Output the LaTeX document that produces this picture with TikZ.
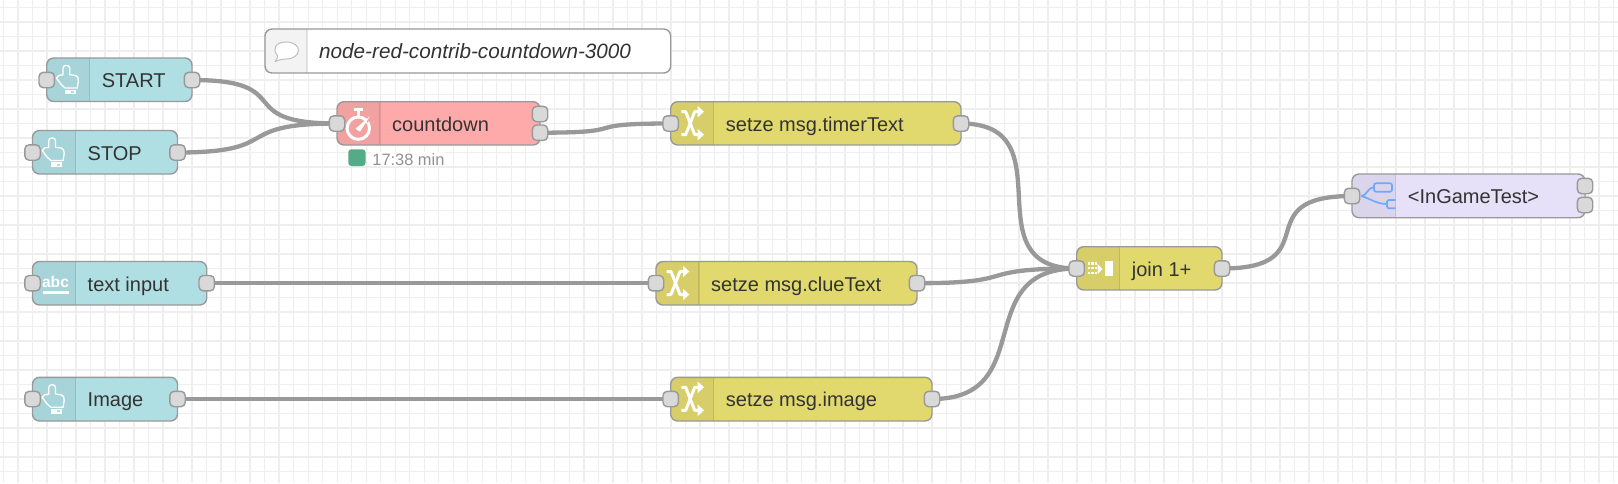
\documentclass[tikz,border=0pt]{standalone}
\usepackage{fontspec}
\setmainfont{Liberation Sans}
\definecolor{gridc}{HTML}{EEEEEE}
\definecolor{edge}{HTML}{999999}
\definecolor{portc}{HTML}{D9D9D9}
\definecolor{textc}{HTML}{333333}
\definecolor{teal}{HTML}{B0DFE3}
\definecolor{tealdk}{HTML}{A7D4D8}
\definecolor{yel}{HTML}{E2D96E}
\definecolor{yeldk}{HTML}{D7CE69}
\definecolor{redn}{HTML}{FFAAAA}
\definecolor{reddk}{HTML}{F2A1A1}
\definecolor{lav}{HTML}{E6E0F8}
\definecolor{lavdk}{HTML}{DBD5EC}
\definecolor{cmtdk}{HTML}{F3F3F3}
\definecolor{stat}{HTML}{55AA88}
\definecolor{flowblue}{HTML}{6FA9FF}
\pgfdeclarelayer{wires}
\pgfsetlayers{wires,main}
\tikzset{
  nrbody/.style={draw=none,rectangle,rounded corners=7pt,inner sep=0pt,outer sep=0pt,anchor=north west},
  nrport/.style={draw=edge,line width=1.4pt,fill=portc,rectangle,rounded corners=4.3pt,minimum size=15.4pt,inner sep=0pt,outer sep=0pt},
  nrlabel/.style={anchor=base west,inner sep=0pt,outer sep=0pt,text=textc,font=\fontsize{20}{24}\selectfont},
  wire/.style={draw=edge,line width=4.3pt},
  iconline/.style={draw=white,line width=1.3pt,line join=round,line cap=round},
  iconfill/.style={fill=white,draw=none},
}
\newcommand{\nrbody}[9]{%
  \node[nrbody,fill=#7,minimum width=#4pt-#2pt,minimum height=#5pt-#3pt] (#1) at (#2,#3) {};
  \begin{scope}
    \clip[rounded corners=7pt] (#2,#3) rectangle (#4,#5);
    \fill[#8] (#2,#3) rectangle (#6,#5);
    \draw[black,opacity=0.1,line width=1.2pt] (#6,#3) -- (#6,#5);
  \end{scope}
  \draw[edge,line width=1.4pt,rounded corners=7pt] (#2,#3) rectangle (#4,#5);
  \node[nrlabel] (#1-label) at (#6+12.2,#3+29.5) {#9};
}
\newcommand{\handicon}[2]{%
  \begin{scope}[shift={(#1,#2)}]
    \draw[iconline] (9.7,20) .. controls (11,17.5) and (14,16) .. (16.3,17) -- (16.3,10)
      .. controls (16.3,6.5) and (23,6.5) .. (23,10) -- (23,16.7) -- (29,17.6)
      .. controls (31,18) and (31.7,20) .. (31.7,23) -- (30.6,30) -- (18.5,30) -- (14.7,26.7) -- cycle;
    \fill[iconfill] (18,31.6) rectangle (29.5,36.4);
    \fill[teal] (24.5,33) rectangle (27.5,35);
  \end{scope}
}
\newcommand{\shuffleicon}[2]{%
  \begin{scope}[shift={(#1,#2)}]
    \draw[white,line width=3pt,line join=round] (10.7,10) -- (15,10) -- (24,33) -- (29,33);
    \draw[white,line width=3pt,line join=round] (10.7,33) -- (15,33) -- (24,10) -- (29,10);
    \fill[iconfill] (27,4.3) -- (33.3,10) -- (27,15.7) -- cycle;
    \fill[iconfill] (27,27.3) -- (33.3,33) -- (27,38.7) -- cycle;
  \end{scope}
}
\begin{document}
\begin{tikzpicture}[x=1pt,y=-1pt]
\useasboundingbox (0,0) rectangle (1618,483);
\begin{pgfonlayer}{wires}
  \fill[white] (0,0) rectangle (1618,483);
  \foreach \i in {0,...,111} \draw[gridc,line width=1.4pt] ({3.6+14.505*\i},0) -- ({3.6+14.505*\i},483);
  \foreach \i in {0,...,33} \draw[gridc,line width=1.4pt] (0,{7.3+14.51*\i}) -- (1618,{7.3+14.51*\i});
\end{pgfonlayer}

% comment
\nrbody{cmt}{265}{29}{670.7}{73}{307}{white}{cmtdk}{}
\node[anchor=base west,inner sep=0pt,text=textc,font=\fontsize{20.7}{24}\selectfont\itshape] (cmt-text) at (319,58) {node-red-contrib-countdown-3000};
\begin{scope}[shift={(265,29)}]
  \draw[fill=white,draw=black!25,line width=1pt,line join=round]
    (12.5,26.5) .. controls (7,21) and (10,13) .. (21,13) .. controls (38,13) and (37,30) .. (21,30)
    .. controls (18,30) and (16,30.5) .. (14.5,31) -- (10,32.5) .. controls (12,30.5) and (12.8,28.5) .. (12.5,26.5) -- cycle;
\end{scope}

% inputs
\nrbody{start}{46.7}{58}{192}{101.5}{89.7}{teal}{tealdk}{START}
\handicon{46.7}{58}
\nrbody{stop}{32.5}{130.5}{177.5}{174}{75.5}{teal}{tealdk}{STOP}
\handicon{32.5}{130.5}
\nrbody{txt}{32.5}{261.5}{206.7}{305}{75.5}{teal}{tealdk}{text input}
\node[anchor=base,inner sep=0pt,text=white,font=\fontsize{15.6}{18}\selectfont\bfseries] (txt-abc) at (55.5,287.5) {abc};
\draw[white,line width=2.4pt] (43,292.3) -- (69,292.3);
\nrbody{img}{32.5}{377.3}{177.5}{421}{75.5}{teal}{tealdk}{Image}
\handicon{32.5}{377.3}

% countdown
\nrbody{cd}{337}{101.7}{540}{145}{380}{redn}{reddk}{countdown}
\begin{scope}[shift={(337,101.7)}]
  \draw[white,line width=3pt] (21.3,26.5) circle (11.2pt);
  \draw[white,line width=2.4pt] (16.5,7.6) -- (26,7.6);
  \draw[white,line width=2.4pt] (21.3,7.6) -- (21.3,14);
  \draw[reddk,line width=2.6pt] (29.5,20) -- (33,16);
  \fill[iconfill] (18.5,27) -- (33,14.5) -- (23,30) -- cycle;
\end{scope}
\fill[stat,rounded corners=3pt] (348.3,149.3) rectangle (365.5,166);
\node[anchor=base west,inner sep=1pt,fill=white,text=edge!95!black,font=\fontsize{16.4}{18}\selectfont] (cd-status) at (371.2,165) {17:38 min};

% change nodes
\nrbody{timer}{670.7}{101.7}{961}{145}{713.7}{yel}{yeldk}{setze msg.timerText}
\shuffleicon{670.7}{101.7}
\nrbody{clue}{656}{261.5}{917}{305}{699}{yel}{yeldk}{setze msg.clueText}
\shuffleicon{656}{261.5}
\nrbody{image}{670.7}{377.3}{932}{421}{713.7}{yel}{yeldk}{setze msg.image}
\shuffleicon{670.7}{377.3}

% join
\nrbody{join}{1076.7}{246.7}{1222}{290}{1119.7}{yel}{yeldk}{join 1+}
\begin{scope}[shift={(1076.7,246.7)}]
  \foreach \px in {11,14.6,18.2} \foreach \py in {15.6,20.4,25.2} \fill[iconfill] (\px,\py) rectangle +(2.2,2.2);
  \fill[iconfill] (21,17.3) -- (25.7,22.3) -- (21,27.3) -- cycle;
  \fill[iconfill] (28,14.7) rectangle (36,29);
\end{scope}

% subflow
\nrbody{sub}{1352}{174}{1585}{217.7}{1395.7}{lav}{lavdk}{<InGameTest>}
\begin{scope}[shift={(1352,174)}]
  \clip (0,0) rectangle (43.7,43.7);
  \draw[flowblue,line width=1.7pt,rounded corners=2pt] (22,9.3) rectangle (40,17.7);
  \draw[flowblue,line width=1.7pt,rounded corners=2pt] (35,26) rectangle (50,34.3);
  \draw[flowblue,line width=1.7pt] (9.3,22) .. controls (15,22) and (15,13.5) .. (22,13.5);
  \draw[flowblue,line width=1.7pt] (9.3,22) .. controls (17,24) and (24,30) .. (35,30);
\end{scope}

% ports
\node[nrport] (start-o) at (192,80) {};
\node[nrport] (stop-o) at (177.5,152.5) {};
\node[nrport] (txt-o) at (206.7,283.2) {};
\node[nrport] (img-o) at (177.5,399) {};
\node[nrport] (start-i) at (46.7,80) {};
\node[nrport] (stop-i) at (32.5,152.5) {};
\node[nrport] (txt-i) at (32.5,283.2) {};
\node[nrport] (img-i) at (32.5,399) {};
\node[nrport] (cd-i) at (337,123.5) {};
\node[nrport] (cd-a) at (540,114) {};
\node[nrport] (cd-b) at (540,132.7) {};
\node[nrport] (timer-i) at (670.7,123.5) {};
\node[nrport] (timer-o) at (961,123.5) {};
\node[nrport] (clue-i) at (656,283.2) {};
\node[nrport] (clue-o) at (917,283.2) {};
\node[nrport] (image-i) at (670.7,399) {};
\node[nrport] (image-o) at (932,399) {};
\node[nrport] (join-i) at (1076.7,268.5) {};
\node[nrport] (join-o) at (1222,268.5) {};
\node[nrport] (sub-i) at (1352,196) {};
\node[nrport] (sub-a) at (1585,186) {};
\node[nrport] (sub-b) at (1585,205) {};

% wires
\begin{pgfonlayer}{wires}
  \draw[wire] (start-o.center) .. controls +(108,0) and +(-108,0) .. (cd-i.center);
  \draw[wire] (stop-o.center) .. controls +(108,0) and +(-108,0) .. (cd-i.center);
  \draw[wire] (cd-b.center) .. controls +(98,0) and +(-98,0) .. (timer-i.center);
  \draw[wire] (txt-o.center) -- (clue-i.center);
  \draw[wire] (img-o.center) -- (image-i.center);
  \draw[wire] (timer-o.center) .. controls +(108,0) and +(-108,0) .. (join-i.center);
  \draw[wire] (clue-o.center) .. controls +(108,0) and +(-108,0) .. (join-i.center);
  \draw[wire] (image-o.center) .. controls +(108,0) and +(-108,0) .. (join-i.center);
  \draw[wire] (join-o.center) .. controls +(108,0) and +(-108,0) .. (sub-i.center);
\end{pgfonlayer}
\end{tikzpicture}
\end{document}
